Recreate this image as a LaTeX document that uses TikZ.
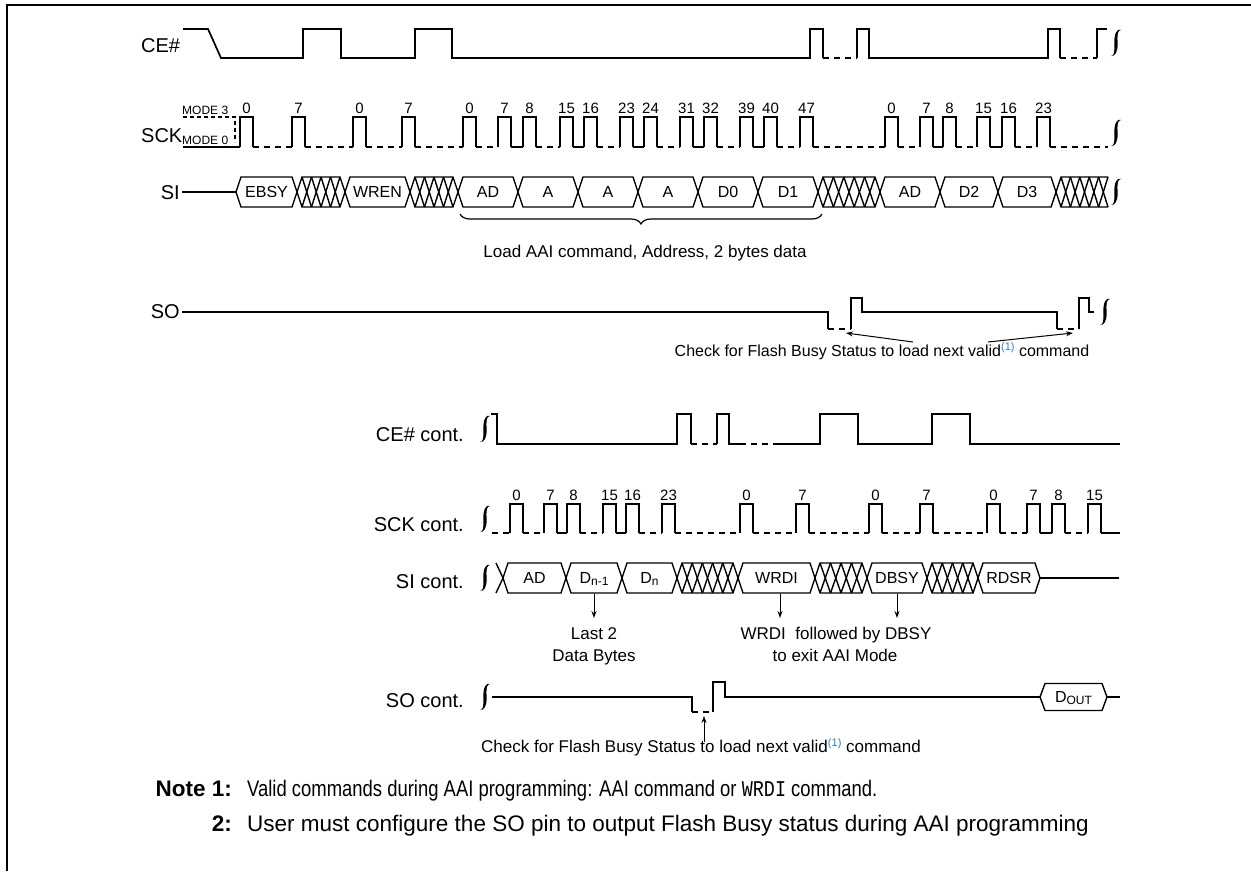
\documentclass[tikz,border=0pt]{standalone}
\usepackage{fontspec}
\setmainfont{Liberation Sans}
\newfontfamily\monofont{Liberation Mono}
\usetikzlibrary{decorations.pathreplacing,arrows.meta}
\definecolor{refblue}{RGB}{40,130,200}
\newcommand\fs[1]{\fontsize{#1}{#1}\selectfont}
\tikzset{
 wave/.style={line width=1.7pt, line join=miter},
 dwave/.style={wave, dash pattern=on 6pt off 5pt},
 bus/.style={line width=1.4pt, line join=miter},
 lbl/.style={anchor=base west, font=\fs{20}, inner sep=0pt},
 lblr/.style={anchor=base east, font=\fs{20}, inner sep=0pt},
 num/.style={anchor=base, font=\fs{15}, inner sep=0pt},
 btxt/.style={anchor=base, font=\fs{16}, inner sep=0pt},
 ann/.style={anchor=base, font=\fs{17}, inner sep=0pt},
 note/.style={anchor=base west, font=\fs{22.5}, inner sep=0pt},
 noteb/.style={anchor=base east, font=\fs{22.5}\bfseries, inner sep=0pt},
 arr/.style={line width=1pt, -{Stealth[length=7pt,width=5pt]}},
}
\newcommand\hexb[6]{%
  \draw[bus] (#1,#3) -- (#1+5,#3-#4) -- (#2-5,#3-#4) -- (#2,#3) -- (#2-5,#3+#4) -- (#1+5,#3+#4) -- cycle;
  \node[btxt] (#6) at ({(#1+#2)/2},#3+5.8) {#5};}
\newcommand\hatch[4]{%
  \pgfmathtruncatemacro\hn{round((#2-#1-10)/10)}%
  \pgfmathsetmacro\hw{(#2-#1-10)/\hn}%
  \draw[bus] (#1+5,#3-#4) -- (#1,#3) -- (#1+5,#3+#4) -- (#2-5,#3+#4) -- (#2,#3) -- (#2-5,#3-#4) -- cycle;
  \foreach \i in {1,...,\hn} {
    \draw[bus] (#1+5+\hw*\i-\hw,#3-#4) -- (#1+5+\hw*\i,#3+#4);
    \draw[bus] (#1+5+\hw*\i-\hw,#3+#4) -- (#1+5+\hw*\i,#3-#4);
  }}
\newcommand\hatchopen[4]{%
  \pgfmathtruncatemacro\hn{round((#2-#1-5)/10)}%
  \pgfmathsetmacro\hw{(#2-#1-5)/\hn}%
  \draw[bus] (#2,#3-#4) -- (#1+5,#3-#4) -- (#1,#3) -- (#1+5,#3+#4) -- (#2,#3+#4);
  \foreach \i in {1,...,\hn} {
    \draw[bus] (#1+5+\hw*\i-\hw,#3-#4) -- (#1+5+\hw*\i,#3+#4);
    \draw[bus] (#1+5+\hw*\i-\hw,#3+#4) -- (#1+5+\hw*\i,#3-#4);
  }}
\newcommand\clockwave[3]{%
  \foreach \r [remember=\r as \p (initially -100)] in {#3} {
    \draw[wave] (\r,#2) -- (\r,#1) -- (\r+13,#1) -- (\r+13,#2);
    \ifnum\p>-100
      \pgfmathtruncatemacro\gap{\r-\p-13}%
      \ifnum\gap>14 \draw[dwave] (\p+13,#2) -- (\r,#2);\else \draw[wave] (\p+13,#2) -- (\r,#2);\fi
    \fi
  }}
\newcommand\brk[2]{\fill (#1+5,#2-13) .. controls (#1+1,#2-15) and (#1-2,#2-9) .. (#1-1.6,#2) .. controls (#1-1.2,#2+9) and (#1-2,#2+13) .. (#1-5,#2+13) .. controls (#1-1,#2+13.5) and (#1+2,#2+9) .. (#1+1.6,#2) .. controls (#1+1.2,#2-9) and (#1+1.5,#2-12.5) .. (#1+5,#2-13) -- cycle;}
\newcommand\supone{\raisebox{6pt}{\fs{11}\textcolor{refblue}{(1)}}}
\begin{document}
\begin{tikzpicture}[x=1pt,y=-1pt]
\useasboundingbox (0,0) rectangle (1251,871);
\fill[white] (0,0) rectangle (1251,871);
\draw[line width=2.6pt] (7,871) -- (7,5) -- (1251,5);

% ---------- labels ----------
\node[lbl] (lce) at (141,52) {CE\#};
\node[lbl] (lsck) at (141,142) {SCK};
\node[lblr] (lsi) at (180,199) {SI};
\node[lblr] (lso) at (180,318) {SO};
\node[lblr] (lce2) at (464,441) {CE\# cont.};
\node[lblr] (lsck2) at (464,531) {SCK cont.};
\node[lblr] (lsi2) at (464,588) {SI cont.};
\node[lblr] (lso2) at (464,707) {SO cont.};

% ---------- CE# ----------
\draw[wave] (183,29) -- (208,29) -- (221,58) -- (303,58) -- (303,29) -- (341,29) -- (341,58) -- (415,58) -- (415,29) -- (452,29) -- (452,58) -- (810,58) -- (810,29) -- (823,29) -- (823,58);
\draw[dwave] (823,58) -- (857,58);
\draw[wave] (857,58) -- (857,29) -- (869,29) -- (869,58) -- (1048,58) -- (1048,29) -- (1060,29) -- (1060,58);
\draw[dwave] (1060,58) -- (1097,58);
\draw[wave] (1097,58) -- (1097,29) -- (1107,29);
\brk{1116}{43}

% ---------- SCK ----------
\draw[line width=1.3pt, dash pattern=on 4pt off 3pt] (183,117) -- (235,117) -- (235,142);
\node[anchor=base west, font=\fs{12}, inner sep=0pt] (m3) at (182,114) {MODE 3};
\node[anchor=base west, font=\fs{12}, inner sep=0pt] (m0) at (182,144) {MODE 0};
\draw[wave] (183,147) -- (240,147);
\clockwave{117}{147}{240,292,353,402,463,498,523,560,584,620,644,680,704,740,764,800,885,920,943,977,1002,1037}
\draw[dwave] (1050,147) -- (1108,147);
\foreach \x/\t in {240/0,292/7,353/0,402/7,463/0,498/7,523/8,560/15,584/16,620/23,644/24,680/31,704/32,740/39,764/40,800/47,885/0,920/7,943/8,977/15,1002/16,1037/23}
  \node[num] (ta\x) at (\x+6.5,113) {\t};
\brk{1116}{133}

% ---------- SI ----------
\draw[bus] (182,192) -- (236,192);
\hexb{236}{297}{192}{15}{EBSY}{b1}
\hatch{297}{345}{192}{15}
\hexb{345}{410}{192}{15}{WREN}{b2}
\hatch{410}{458}{192}{15}
\hexb{458}{518}{192}{15}{AD}{b3}
\hexb{518}{578}{192}{15}{A}{b4}
\hexb{578}{638}{192}{15}{A}{b5}
\hexb{638}{698}{192}{15}{A}{b6}
\hexb{698}{758}{192}{15}{D0}{b7}
\hexb{758}{818}{192}{15}{D1}{b8}
\hatch{818}{880}{192}{15}
\hexb{880}{940}{192}{15}{AD}{b9}
\hexb{940}{998}{192}{15}{D2}{b10}
\hexb{998}{1056}{192}{15}{D3}{b11}
\hatchopen{1056}{1108}{192}{15}
\brk{1116}{192}

\draw[line width=1.2pt, decorate, decoration={brace, mirror, amplitude=10pt}] (460,214) -- (822,214);
\node[anchor=base, font=\fs{17}, inner sep=0pt] (load) at (645,257) {Load AAI command, Address, 2 bytes data};

% ---------- SO ----------
\draw[wave] (182,312) -- (828,312) -- (828,329);
\draw[dwave] (828,329) -- (851,329);
\draw[wave] (851,329) -- (851,298) -- (862,298) -- (862,312) -- (1057,312) -- (1057,329);
\draw[dwave] (1057,329) -- (1079,329);
\draw[wave] (1079,329) -- (1079,298) -- (1089,298) -- (1089,312) -- (1094,312);
\brk{1105}{312}
\node[anchor=base, font=\fs{16}, inner sep=0pt] (chk1) at (882,356) {Check for Flash Busy Status to load next valid\supone{} command};
\coordinate (a1s) at (913,342); \coordinate (a1e) at (846,333);
\coordinate (a2s) at (988,342); \coordinate (a2e) at (1073,333);
\draw[arr] (a1s) -- (a1e);
\draw[arr] (a2s) -- (a2e);

% ---------- CE# cont ----------
\brk{485}{429}
\draw[wave] (491,414) -- (497,414) -- (497,444) -- (677,444) -- (677,414) -- (691,414) -- (691,444);
\draw[dwave] (691,444) -- (717,444);
\draw[wave] (717,444) -- (717,414) -- (729,414) -- (729,444) -- (740,444);
\draw[dwave] (740,444) -- (778,444);
\draw[wave] (778,444) -- (820,444) -- (820,414) -- (858,414) -- (858,444) -- (932,444) -- (932,414) -- (970,414) -- (970,444) -- (1120,444);

% ---------- SCK cont ----------
\brk{485}{519}
\draw[dwave] (492,533) -- (510,533);
\clockwave{504}{533}{510,544,567,603,626,662,740,796,869,920,987,1027,1052,1088}
\draw[wave] (1101,533) -- (1120,533);
\foreach \x/\t in {510/0,544/7,567/8,603/15,626/16,662/23,740/0,796/7,869/0,920/7,987/0,1027/7,1052/8,1088/15}
  \node[num] (tb\x) at (\x+6.5,500) {\t};

% ---------- SI cont ----------
\brk{485}{578}
\draw[bus] (496,563) -- (503,578) -- (496,593);
\hexb{503}{566}{578}{15}{AD}{c1}
\hexb{566}{622}{578}{15}{D\raisebox{-2pt}{\fs{12}n-1}}{c2}
\hexb{622}{677}{578}{15}{D\raisebox{-2pt}{\fs{12}n}}{c3}
\hatch{677}{738}{578}{15}
\hexb{738}{815}{578}{15}{WRDI}{c4}
\hatch{815}{867}{578}{15}
\hexb{867}{927}{578}{15}{DBSY}{c5}
\hatch{927}{978}{578}{15}
\hexb{978}{1040}{578}{15}{RDSR}{c6}
\draw[bus] (1040,578) -- (1119,578);
\draw[arr] (594,594) -- (594,618);
\draw[arr] (780,594) -- (780,618);
\draw[arr] (897,594) -- (897,618);
\node[ann] (last2a) at (594,639) {Last 2};
\node[ann] (last2b) at (594,661) {Data Bytes};
\node[ann] (wrdia) at (836,639) {WRDI\ \ followed by DBSY};
\node[ann] (wrdib) at (835,661) {to exit AAI Mode};

% ---------- SO cont ----------
\brk{485}{697}
\draw[wave] (492,697) -- (692,697) -- (692,712);
\draw[dwave] (692,712) -- (713,712);
\draw[wave] (713,712) -- (713,682) -- (725,682) -- (725,697) -- (1040,697);
\hexb{1040}{1107}{697}{13.5}{D\raisebox{-2pt}{\fs{12}OUT}}{c7}
\draw[bus] (1107,697) -- (1120,697);
\node[anchor=base, font=\fs{17}, inner sep=0pt] (chk2) at (701,752) {Check for Flash Busy Status to load next valid\supone{} command};
\coordinate (a3s) at (704,742); \coordinate (a3e) at (704,716);
\draw[arr] (a3s) -- (a3e);

% ---------- notes ----------
\node[noteb] (n1) at (232,796) {Note 1:};
\node[note] (n1t) at (247,796) {\scalebox{0.82}[1]{Valid commands during AAI programming: AAI command or {\monofont WRDI} command.}};
\node[noteb] (n2) at (232,831) {2:};
\node[note] (n2t) at (247,831) {User must configure the SO pin to output Flash Busy status during AAI programming};
\end{tikzpicture}
\end{document}
